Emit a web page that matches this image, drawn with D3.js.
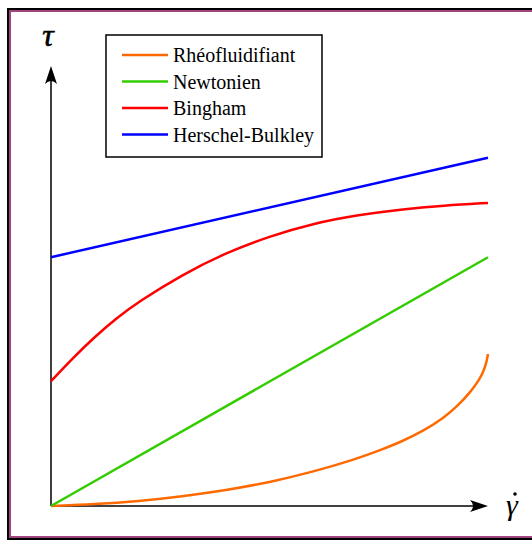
<!DOCTYPE html>
<html>
<head>
<meta charset="utf-8">
<script src="https://cdn.jsdelivr.net/npm/d3@7"></script>
<style>
  body { margin: 0; background: #fff; }
</style>
</head>
<body>
<div id="chart"></div>
<script>
// shear rate values (x) and shear stress readings (y) for each model
const seriesNames = ["Rhéofluidifiant", "Newtonien", "Bingham", "Herschel-Bulkley"];
const seriesColors = ["#ff6a00", "#33cc00", "#ff0000", "#0000ff"];

const rheoX = [0, 1, 2, 3, 4, 5, 6, 7, 7.5, 8, 8.5, 9, 9.3, 9.6, 9.8, 9.9, 9.97, 10];
const rheoY = [0, 0.04, 0.11, 0.22, 0.36, 0.54, 0.78, 1.08, 1.26, 1.46, 1.70, 2.02, 2.28, 2.60, 2.88, 3.08, 3.30, 3.47];

const newtonX = [0, 10];
const newtonY = [0, 5.68];

const binghamX = [0, 0.5, 1, 1.5, 2, 3, 4, 5, 6, 7, 8, 9, 10];
const binghamY = [2.85, 3.38, 3.86, 4.29, 4.66, 5.28, 5.78, 6.16, 6.45, 6.64, 6.77, 6.86, 6.92];

const hbX = [0, 10];
const hbY = [5.68, 7.95];

const series = [
    { name: seriesNames[0], color: seriesColors[0], pts: rheoX.map((x, i) => [x, rheoY[i]]) },
    { name: seriesNames[1], color: seriesColors[1], pts: newtonX.map((x, i) => [x, newtonY[i]]) },
    { name: seriesNames[2], color: seriesColors[2], pts: binghamX.map((x, i) => [x, binghamY[i]]) },
    { name: seriesNames[3], color: seriesColors[3], pts: hbX.map((x, i) => [x, hbY[i]]) }
];

const serif = "Liberation Serif";
const width = 532, height = 541;

const svg = d3.select("#chart").append("svg")
    .attr("width", width)
    .attr("height", height);

// frame: black outer, purple inner
svg.append("rect")
    .attr("x", 8).attr("y", 9)
    .attr("width", 540).attr("height", 530)
    .attr("fill", "none").attr("stroke", "#000").attr("stroke-width", 2);
svg.append("rect")
    .attr("x", 10).attr("y", 11)
    .attr("width", 540).attr("height", 526)
    .attr("fill", "none").attr("stroke", "#a0457f").attr("stroke-width", 2);

// scales
const x = d3.scaleLinear().domain([0, 10]).range([51, 488]);
const y = d3.scaleLinear().domain([0, 10]).range([506, 68]);

// axes with arrows
svg.append("line")
    .attr("x1", x(0)).attr("y1", y(0))
    .attr("x2", x(0)).attr("y2", 72)
    .attr("stroke", "#000").attr("stroke-width", 1.5);
svg.append("line")
    .attr("x1", x(0)).attr("y1", y(0))
    .attr("x2", 482).attr("y2", y(0))
    .attr("stroke", "#000").attr("stroke-width", 1.5);

// dart arrow heads
const ax = x(0), tipY = 66;
svg.append("path")
    .attr("d", `M${ax},${tipY} L${ax + 6},${tipY + 18} Q${ax},${tipY + 12} ${ax - 6},${tipY + 18} Z`)
    .attr("fill", "#000");
const ay = y(0), tipX = 488;
svg.append("path")
    .attr("d", `M${tipX},${ay} L${tipX - 18},${ay - 6} Q${tipX - 12},${ay} ${tipX - 18},${ay + 6} Z`)
    .attr("fill", "#000");

// axis labels
svg.append("text")
    .attr("x", 48).attr("y", 46)
    .attr("text-anchor", "middle")
    .attr("font-family", serif)
    .attr("font-size", 32).attr("font-style", "italic")
    .attr("stroke", "#000").attr("stroke-width", 0.6)
    .text("τ");
svg.append("text")
    .attr("x", 512).attr("y", 515)
    .attr("text-anchor", "middle")
    .attr("font-family", serif)
    .attr("font-size", 30).attr("font-style", "italic")
    .text("γ");
svg.append("circle")
    .attr("cx", 515).attr("cy", 494).attr("r", 1.8)
    .attr("fill", "#000");

// curves
const line = d3.line()
    .curve(d3.curveBasis)
    .x(d => x(d[0]))
    .y(d => y(d[1]));

svg.selectAll(".curve")
    .data(series)
    .enter().append("path")
    .attr("class", "curve")
    .attr("d", d => line(d.pts))
    .attr("fill", "none")
    .attr("stroke", d => d.color)
    .attr("stroke-width", 2.5);

// legend
const legend = svg.append("g").attr("class", "legend");
legend.append("rect")
    .attr("x", 106).attr("y", 35)
    .attr("width", 216).attr("height", 122)
    .attr("fill", "#fff").attr("stroke", "#000").attr("stroke-width", 1.5);

const rows = legend.selectAll(".row")
    .data(series)
    .enter().append("g")
    .attr("class", "row")
    .attr("transform", (d, i) => "translate(0," + (55 + i * 26.5) + ")");

rows.append("line")
    .attr("x1", 122).attr("x2", 168)
    .attr("y1", 0).attr("y2", 0)
    .attr("stroke", d => d.color).attr("stroke-width", 2.5);

rows.append("text")
    .attr("x", 173).attr("y", 7)
    .attr("font-family", serif)
    .attr("font-size", 20)
    .text(d => d.name);
</script>
</body>
</html>
